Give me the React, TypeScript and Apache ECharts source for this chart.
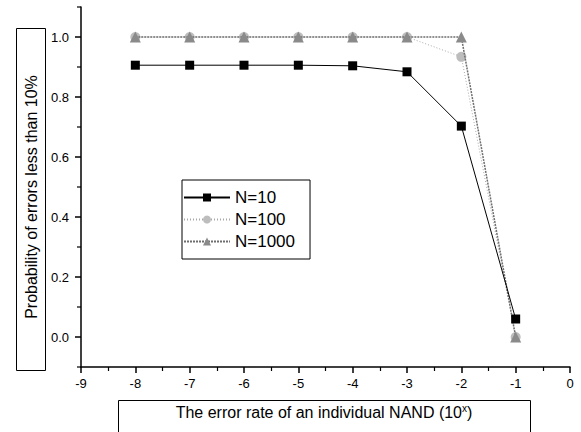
import React, { useEffect, useRef } from "react";
import * as echarts from "echarts";

const xValues = [-8, -7, -6, -5, -4, -3, -2, -1];
const n10 = [0.906, 0.906, 0.906, 0.906, 0.904, 0.884, 0.703, 0.06];
const n100 = [1.0, 1.0, 1.0, 1.0, 1.0, 1.0, 0.934, 0.0];
const n1000 = [1.0, 1.0, 1.0, 1.0, 1.0, 1.0, 1.0, 0.0];
const seriesNames = ["N=10", "N=100", "N=1000"];
const yMajor = [0, 0.2, 0.4, 0.6, 0.8, 1.0];
const yMinor = [-0.1, 0.1, 0.3, 0.5, 0.7, 0.9, 1.1];
const xTitle = "The error rate of an individual NAND (10";
const yTitle = "Probability of errors less than 10%";

const FONT = "Liberation Sans, Arial, sans-serif";

export default function App() {
  const ref = useRef<HTMLDivElement>(null);
  useEffect(() => {
    if (!ref.current) return;
    const chart = echarts.init(ref.current, null, { renderer: "svg" });
    const pair = (ys: number[]) => xValues.map((x, i) => [x, ys[i]]);
    chart.setOption({
      animation: false,
      backgroundColor: "#fff",
      textStyle: { fontFamily: FONT },
      grid: { left: 81, right: 11, top: 7, bottom: 65, containLabel: false },
      xAxis: {
        type: "value",
        min: -9,
        max: 0,
        interval: 1,
        axisLine: { show: true, onZero: false, lineStyle: { color: "#000", width: 1.5 } },
        axisTick: { show: true, inside: false, length: 6, lineStyle: { color: "#000", width: 1.5 } },
        minorTick: { show: true, splitNumber: 2, length: 4, lineStyle: { color: "#000", width: 1.2 } },
        axisLabel: { color: "#000", fontSize: 13, fontFamily: FONT, margin: 10 },
        splitLine: { show: false },
      },
      yAxis: {
        type: "value",
        min: -0.1,
        max: 1.1,
        axisLine: { show: true, onZero: false, lineStyle: { color: "#000", width: 1.5 } },
        axisTick: { show: true, inside: false, length: 6, customValues: yMajor, lineStyle: { color: "#000", width: 1.5 } },
        axisLabel: {
          color: "#000",
          fontSize: 13,
          fontFamily: FONT,
          margin: 12,
          customValues: yMajor,
          formatter: (v: number) => v.toFixed(1),
        },
        splitLine: { show: false },
      },
      legend: {
        orient: "vertical",
        left: 182,
        top: 180,
        data: seriesNames,
        borderColor: "#000",
        borderWidth: 1,
        borderRadius: 0,
        padding: [9, 15, 9, 1],
        itemWidth: 46,
        itemHeight: 10,
        itemGap: 5,
        textStyle: { color: "#000", fontSize: 17, fontFamily: FONT },
      },
      graphic: [
        {
          type: "rect",
          shape: { x: 16.5, y: 28.5, width: 29, height: 342 },
          style: { fill: "none", stroke: "#000", lineWidth: 1 },
        },
        {
          type: "text",
          x: 31,
          y: 197,
          rotation: Math.PI / 2,
          style: {
            text: yTitle,
            fontSize: 16,
            fontFamily: FONT,
            fill: "#000",
            align: "center",
            verticalAlign: "middle",
          },
        },
        {
          type: "rect",
          shape: { x: 118.5, y: 400.5, width: 412, height: 40 },
          style: { fill: "none", stroke: "#000", lineWidth: 1 },
        },
        {
          type: "text",
          x: 324,
          y: 412,
          style: {
            text: xTitle + "{sup|x}" + ")",
            fontSize: 16,
            fontFamily: FONT,
            fill: "#000",
            align: "center",
            verticalAlign: "middle",
            rich: {
              sup: { fontSize: 10, fontFamily: FONT, fill: "#000", verticalAlign: "top", padding: [0, 0, 8, 0] },
            },
          },
        },
      ],
      series: [
        {
          name: "minorTicksY",
          type: "custom",
          data: yMinor.map((v) => [-9, v]),
          clip: false,
          silent: true,
          z: 5,
          renderItem: (_params: any, api: any) => {
            const p = api.coord([api.value(0), api.value(1)]);
            return {
              type: "line",
              shape: { x1: p[0] - 4, y1: p[1], x2: p[0], y2: p[1] },
              style: { stroke: "#000", lineWidth: 1.2 },
            };
          },
        },
        {
          name: "N=10",
          type: "line",
          data: pair(n10),
          symbol: "rect",
          symbolSize: 9,
          z: 4,
          itemStyle: { color: "#000" },
          lineStyle: { color: "#000", width: 1 },
        },
        {
          name: "N=100",
          type: "line",
          data: pair(n100),
          symbol: "circle",
          symbolSize: 10,
          z: 2,
          itemStyle: { color: "#bdbdbd" },
          lineStyle: { color: "#a8a8a8", width: 1, type: [1, 2] },
        },
        {
          name: "N=1000",
          type: "line",
          data: pair(n1000),
          symbol: "triangle",
          symbolSize: 11,
          z: 3,
          itemStyle: { color: "#8a8a8a" },
          lineStyle: { color: "#6e6e6e", width: 1.5, type: [2, 1] },
        },
      ],
    });
    return () => chart.dispose();
  }, []);
  return <div ref={ref} style={{ width: 581, height: 432, position: "absolute", left: 0, top: 0 }} />;
}
